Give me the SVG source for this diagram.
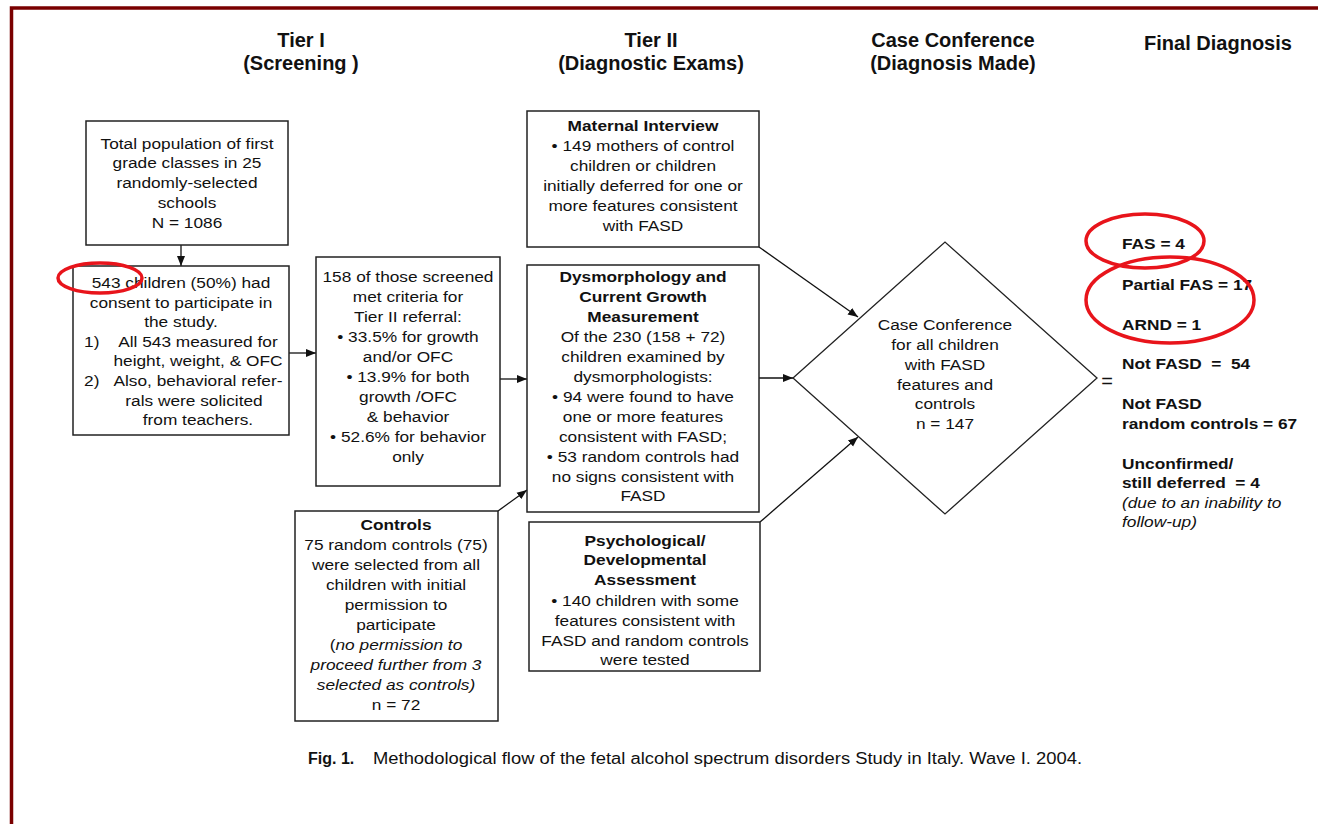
<svg xmlns="http://www.w3.org/2000/svg" width="1318" height="824" viewBox="0 0 1318 824">
<style>
text{font-family:"Liberation Sans",Arial,sans-serif;font-size:15.3px;fill:#111}
.c{text-anchor:middle}
.b{font-weight:bold}
.i{font-style:italic}
.h{font-size:20px;font-weight:bold;text-anchor:middle}
.box{fill:#fff;stroke:#222;stroke-width:1.5}
.con{stroke:#111;stroke-width:1.3;fill:none}
.ring{fill:none;stroke:#e8141b;stroke-width:3.5}
</style>
<defs>
<marker id="ah" markerUnits="userSpaceOnUse" markerWidth="10" markerHeight="10" viewBox="0 0 10 10" refX="10" refY="5" orient="auto">
<path d="M0,1 L10,5 L0,9 Z" fill="#111"/>
</marker>
</defs>
<rect width="1318" height="824" fill="#fff"/>
<rect x="11.5" y="8" width="1330" height="900" fill="none" stroke="#7a0000" stroke-width="3.5"/>

<g id="headings">
<text class="h" x="301" y="47">Tier I</text>
<text class="h" x="301" y="70">(Screening )</text>
<text class="h" x="651" y="47">Tier II</text>
<text class="h" x="651" y="70">(Diagnostic Exams)</text>
<text class="h" x="953" y="47">Case Conference</text>
<text class="h" x="953" y="70">(Diagnosis Made)</text>
<text class="h" x="1218" y="50">Final Diagnosis</text>
</g>

<g id="connectors">
<line class="con" x1="181" y1="245" x2="181" y2="266" marker-end="url(#ah)"/>
<line class="con" x1="289" y1="353" x2="316" y2="353" marker-end="url(#ah)"/>
<line class="con" x1="500" y1="379" x2="527" y2="379" marker-end="url(#ah)"/>
<line class="con" x1="498" y1="511" x2="527" y2="490" marker-end="url(#ah)"/>
<line class="con" x1="759" y1="247" x2="858" y2="317" marker-end="url(#ah)"/>
<line class="con" x1="759" y1="378" x2="793" y2="378" marker-end="url(#ah)"/>
<line class="con" x1="760" y1="522" x2="858" y2="437" marker-end="url(#ah)"/>
</g>

<g id="population">
<rect class="box" x="86" y="121" width="202" height="124"/>
<g transform="translate(187 0) scale(1.13 1)">
<text class="c" x="0" y="149">Total population of first</text>
<text class="c" x="0" y="168">grade classes in 25</text>
<text class="c" x="0" y="188">randomly-selected</text>
<text class="c" x="0" y="208">schools</text>
<text class="c" x="0" y="228">N = 1086</text>
</g>
</g>

<g id="consent">
<rect class="box" x="73" y="266" width="216" height="169"/>
<g transform="translate(181 0) scale(1.13 1)">
<text class="c" x="0" y="288">543 children (50%) had</text>
<text class="c" x="0" y="308">consent to participate in</text>
<text class="c" x="0" y="327">the study.</text>
<text x="-85.8" y="347">1)</text>
<text class="c" x="15" y="347">All 543 measured for</text>
<text class="c" x="15" y="366">height, weight, &amp; OFC</text>
<text x="-85.8" y="386">2)</text>
<text class="c" x="15" y="386">Also, behavioral refer-</text>
<text class="c" x="11.5" y="406">rals were solicited</text>
<text class="c" x="15" y="425">from teachers.</text>
</g>
</g>

<g id="referral">
<rect class="box" x="316" y="257" width="184" height="229"/>
<g transform="translate(408 0) scale(1.13 1)">
<text class="c" x="0" y="282">158 of those screened</text>
<text class="c" x="0" y="302">met criteria for</text>
<text class="c" x="0" y="322">Tier II referral:</text>
<text class="c" x="0" y="342">• 33.5% for growth</text>
<text class="c" x="0" y="362">and/or OFC</text>
<text class="c" x="0" y="382">• 13.9% for both</text>
<text class="c" x="0" y="402">growth /OFC</text>
<text class="c" x="0" y="422">&amp; behavior</text>
<text class="c" x="0" y="442">• 52.6% for behavior</text>
<text class="c" x="0" y="462">only</text>
</g>
</g>

<g id="controls">
<rect class="box" x="295" y="511" width="203" height="210"/>
<g transform="translate(396 0) scale(1.13 1)">
<text class="c b" x="0" y="530">Controls</text>
<text class="c" x="0" y="550">75 random controls (75)</text>
<text class="c" x="0" y="570">were selected from all</text>
<text class="c" x="0" y="590">children with initial</text>
<text class="c" x="0" y="610">permission to</text>
<text class="c" x="0" y="630">participate</text>
<text class="c" x="0" y="650">(<tspan class="i">no permission to</tspan></text>
<text class="c i" x="0" y="670">proceed further from 3</text>
<text class="c i" x="0" y="690">selected as controls)</text>
<text class="c" x="0" y="710">n = 72</text>
</g>
</g>

<g id="maternal">
<rect class="box" x="527" y="111" width="232" height="136"/>
<g transform="translate(643 0) scale(1.13 1)">
<text class="c b" x="0" y="131">Maternal Interview</text>
<text class="c" x="0" y="151">• 149 mothers of control</text>
<text class="c" x="0" y="171">children or children</text>
<text class="c" x="0" y="191">initially deferred for one or</text>
<text class="c" x="0" y="211">more features  consistent</text>
<text class="c" x="0" y="231">with FASD</text>
</g>
</g>

<g id="dysmorphology">
<rect class="box" x="527" y="265" width="232" height="247"/>
<g transform="translate(643 0) scale(1.13 1)">
<text class="c b" x="0" y="282">Dysmorphology and</text>
<text class="c b" x="0" y="302">Current Growth</text>
<text class="c b" x="0" y="322">Measurement</text>
<text class="c" x="0" y="342">Of the 230 (158 + 72)</text>
<text class="c" x="0" y="362">children examined by</text>
<text class="c" x="0" y="382">dysmorphologists:</text>
<text class="c" x="0" y="402">• 94 were found to have</text>
<text class="c" x="0" y="422">one or more features</text>
<text class="c" x="0" y="442">consistent with FASD;</text>
<text class="c" x="0" y="462">• 53 random controls had</text>
<text class="c" x="0" y="482">no signs consistent with</text>
<text class="c" x="0" y="501">FASD</text>
</g>
</g>

<g id="psychological">
<rect class="box" x="529" y="522" width="231" height="149"/>
<g transform="translate(645 0) scale(1.13 1)">
<text class="c b" x="0" y="546">Psychological/</text>
<text class="c b" x="0" y="565">Developmental</text>
<text class="c b" x="0" y="585">Assessment</text>
<text class="c" x="0" y="606">• 140 children with some</text>
<text class="c" x="0" y="626">features consistent with</text>
<text class="c" x="0" y="646">FASD and random controls</text>
<text class="c" x="0" y="665">were tested</text>
</g>
</g>

<g id="case-conference">
<polygon points="793,378 945,242 1097,378 945,514" fill="#fff" stroke="#222" stroke-width="1.3"/>
<g transform="translate(945 0) scale(1.13 1)">
<text class="c" x="0" y="330">Case Conference</text>
<text class="c" x="0" y="350">for all children</text>
<text class="c" x="0" y="370">with FASD</text>
<text class="c" x="0" y="390">features and</text>
<text class="c" x="0" y="409">controls</text>
<text class="c" x="0" y="429">n = 147</text>
</g>
<text x="1107" y="388" class="c" style="font-size:20px">=</text>
</g>

<g id="final-diagnosis">
<g transform="translate(1122 0) scale(1.13 1)">
<text class="b" x="0" y="249">FAS = 4</text>
<text class="b" x="0" y="290">Partial FAS  = 17</text>
<text class="b" x="0" y="330">ARND  = 1</text>
<text class="b" x="0" y="369" xml:space="preserve">Not FASD  =  54</text>
<text class="b" x="0" y="409">Not FASD</text>
<text class="b" x="0" y="429">random controls = 67</text>
<text class="b" x="0" y="469">Unconfirmed/</text>
<text class="b" x="0" y="488" xml:space="preserve">still deferred  = 4</text>
<text class="i" x="0" y="508">(due to an inability to</text>
<text class="i" x="0" y="527">follow-up)</text>
</g>
</g>

<g id="highlights">
<ellipse class="ring" cx="100" cy="278" rx="42" ry="15"/>
<ellipse class="ring" cx="1145" cy="241" rx="59" ry="27"/>
<ellipse class="ring" cx="1170" cy="300" rx="84" ry="43"/>
</g>

<g id="caption">
<text class="b" x="308" y="764" style="font-size:16px">Fig. 1.</text>
<text x="373" y="764" style="font-size:16px" textLength="709" lengthAdjust="spacingAndGlyphs">Methodological flow of the fetal alcohol spectrum disorders Study in Italy. Wave I. 2004.</text>
</g>
</svg>
